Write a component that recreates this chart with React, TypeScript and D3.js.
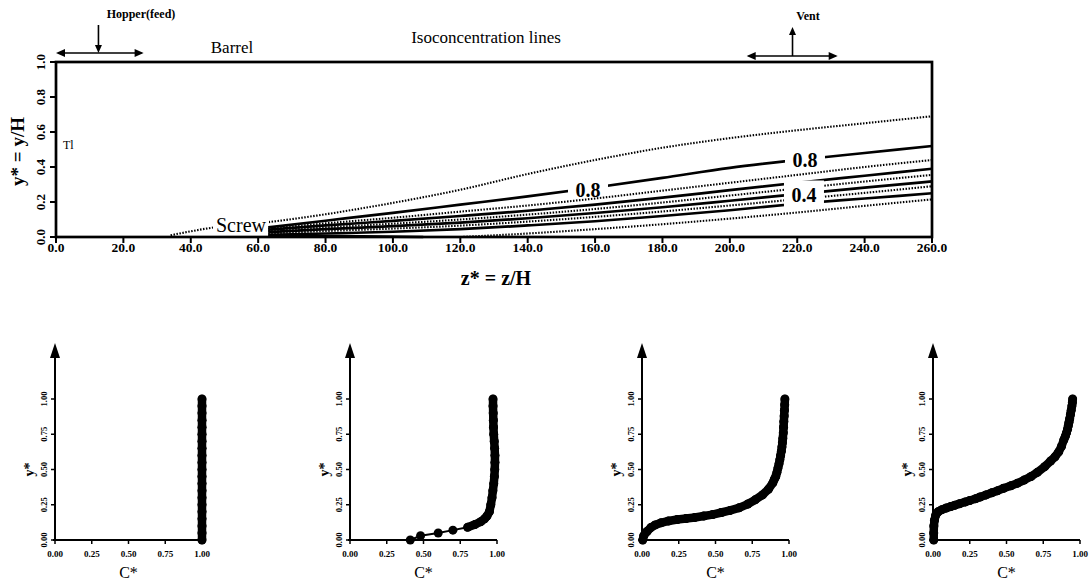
import React, { useEffect, useRef } from "react";
import * as d3 from "d3";

// top plot axes
const zTicks = [0, 20, 40, 60, 80, 100, 120, 140, 160, 180, 200, 220, 240, 260];
const yTicks = [0, 0.2, 0.4, 0.6, 0.8, 1.0];

// isoconcentration lines, [z*, y*]
const iso09 = [[34, 0.01], [47, 0.055], [63, 0.085], [80, 0.13], [100, 0.195], [120, 0.27], [140, 0.36], [160, 0.44], [180, 0.51], [200, 0.565], [220, 0.61], [240, 0.65], [260, 0.69]];
const iso08 = [[63, 0.055], [80, 0.093], [100, 0.138], [120, 0.185], [140, 0.232], [160, 0.283], [180, 0.338], [200, 0.395], [220, 0.44], [240, 0.48], [260, 0.52]];
const iso07 = [[63, 0.048], [80, 0.078], [100, 0.11], [120, 0.145], [140, 0.18], [160, 0.22], [180, 0.265], [200, 0.31], [220, 0.355], [240, 0.4], [260, 0.44]];
const iso06 = [[63, 0.042], [80, 0.066], [100, 0.092], [120, 0.12], [140, 0.15], [160, 0.185], [180, 0.225], [200, 0.268], [220, 0.31], [240, 0.35], [260, 0.39]];
const iso05 = [[63, 0.035], [80, 0.055], [100, 0.076], [120, 0.1], [140, 0.128], [160, 0.16], [180, 0.197], [200, 0.237], [220, 0.277], [240, 0.317], [260, 0.355]];
const iso04 = [[63, 0.028], [80, 0.045], [100, 0.062], [120, 0.082], [140, 0.107], [160, 0.137], [180, 0.17], [200, 0.207], [220, 0.245], [240, 0.282], [260, 0.318]];
const iso03 = [[63, 0.02], [80, 0.034], [100, 0.048], [120, 0.065], [140, 0.088], [160, 0.115], [180, 0.146], [200, 0.18], [220, 0.216], [240, 0.252], [260, 0.29]];
const iso02 = [[63, 0.012], [80, 0.02], [100, 0.03], [120, 0.045], [140, 0.066], [160, 0.09], [180, 0.12], [200, 0.153], [220, 0.19], [240, 0.22], [260, 0.25]];
const iso02Wall = [[63, 0.006], [85, 0.005], [109, 0.0]];
const iso01 = [[120, 0.0], [140, 0.02], [160, 0.045], [180, 0.073], [200, 0.105], [220, 0.14], [240, 0.178], [260, 0.215]];

const isoLines = [
  { pts: iso09, dotted: true, gap: "gapScrew" },
  { pts: iso08, dotted: false, gap: "gap08" },
  { pts: iso07, dotted: true, gap: null },
  { pts: iso06, dotted: false, gap: "gap04" },
  { pts: iso05, dotted: true, gap: "gap04" },
  { pts: iso04, dotted: false, gap: "gap04" },
  { pts: iso03, dotted: true, gap: "gap04" },
  { pts: iso02, dotted: false, gap: "gap04" },
  { pts: iso02Wall, dotted: false, gap: null },
  { pts: iso01, dotted: true, gap: null },
];

// concentration profiles, [C*, y*]
const cTicks = [0, 0.25, 0.5, 0.75, 1.0];
const profile1 = [[1, 0], [1, 0.05], [1, 0.1], [1, 0.15], [1, 0.2], [1, 0.25], [1, 0.3], [1, 0.35], [1, 0.4], [1, 0.45], [1, 0.5], [1, 0.55], [1, 0.6], [1, 0.65], [1, 0.7], [1, 0.75], [1, 0.8], [1, 0.85], [1, 0.9], [1, 0.95], [1, 1.0]];
const profile2 = [[0.41, 0.0], [0.48, 0.03], [0.6, 0.05], [0.7, 0.07], [0.8, 0.09], [0.85, 0.11], [0.89, 0.13], [0.915, 0.15], [0.932, 0.17], [0.948, 0.2], [0.958, 0.25], [0.966, 0.3], [0.972, 0.35], [0.978, 0.4], [0.982, 0.45], [0.985, 0.5], [0.986, 0.55], [0.986, 0.6], [0.984, 0.65], [0.981, 0.7], [0.978, 0.75], [0.976, 0.8], [0.975, 0.85], [0.974, 0.9], [0.973, 0.95], [0.973, 1.0]];
const profile3 = [[0.005, 0.0], [0.012, 0.03], [0.034, 0.06], [0.06, 0.088], [0.09, 0.107], [0.13, 0.122], [0.18, 0.135], [0.24, 0.145], [0.3, 0.152], [0.36, 0.16], [0.42, 0.17], [0.48, 0.18], [0.54, 0.195], [0.6, 0.21], [0.66, 0.228], [0.72, 0.255], [0.77, 0.285], [0.82, 0.32], [0.86, 0.36], [0.89, 0.405], [0.9, 0.43], [0.91, 0.45], [0.918, 0.48], [0.925, 0.51], [0.932, 0.54], [0.938, 0.57], [0.943, 0.6], [0.948, 0.63], [0.952, 0.66], [0.955, 0.69], [0.958, 0.72], [0.961, 0.76], [0.963, 0.8], [0.965, 0.84], [0.967, 0.88], [0.969, 0.92], [0.971, 0.96], [0.972, 1.0]];
const profile4 = [[0.005, 0.0], [0.005, 0.05], [0.006, 0.1], [0.01, 0.14], [0.018, 0.175], [0.035, 0.2], [0.06, 0.215], [0.09, 0.227], [0.12, 0.237], [0.15, 0.247], [0.18, 0.257], [0.22, 0.27], [0.25, 0.28], [0.29, 0.293], [0.32, 0.305], [0.36, 0.32], [0.4, 0.335], [0.44, 0.35], [0.48, 0.367], [0.53, 0.385], [0.575, 0.403], [0.62, 0.425], [0.667, 0.45], [0.71, 0.48], [0.76, 0.52], [0.8, 0.56], [0.83, 0.59], [0.855, 0.625], [0.874, 0.664], [0.89, 0.71], [0.9, 0.735], [0.908, 0.76], [0.915, 0.785], [0.92, 0.81], [0.925, 0.835], [0.93, 0.86], [0.935, 0.89], [0.94, 0.92], [0.945, 0.95], [0.948, 0.975], [0.95, 1.0]];
const profiles = [profile1, profile2, profile3, profile4];

const serif = "'Liberation Serif', 'DejaVu Serif', serif";

export default function App() {
  const ref = useRef<SVGSVGElement>(null);

  useEffect(() => {
    const svg = d3.select(ref.current);
    svg.selectAll("*").remove();
    svg.attr("font-family", serif);

    const x = d3.scaleLinear().domain([0, 260]).range([56, 932]);
    const y = d3.scaleLinear().domain([0, 1]).range([237, 62]);

    const head = (g: any, tx: number, ty: number, dx: number, dy: number, len = 9, hw = 4) => {
      // triangle with tip at (tx,ty) pointing along (dx,dy)
      const bx = tx - dx * len, by = ty - dy * len;
      const px = -dy * hw, py = dx * hw;
      g.append("path")
        .attr("d", `M${tx},${ty}L${bx + px},${by + py}L${bx - px},${by - py}Z`)
        .attr("fill", "#000");
    };

    const defs = svg.append("defs");
    const addMask = (id: string, boxes: number[][]) => {
      const m = defs.append("mask").attr("id", id)
        .attr("maskUnits", "userSpaceOnUse")
        .attr("x", 0).attr("y", 0).attr("width", 1092).attr("height", 585);
      m.append("rect").attr("width", 1092).attr("height", 585).attr("fill", "#fff");
      boxes.forEach(([cx, cy, w, h]) => {
        m.append("rect").attr("x", cx - w / 2).attr("y", cy - h / 2)
          .attr("width", w).attr("height", h).attr("fill", "#000");
      });
    };

    // contour labels
    const lab08a = [157.9, 0.269];
    const lab08b = [222.3, 0.44];
    const lab04 = [222, 0.24];
    const labScrew = [54.9, 0.069];

    addMask("gap08", [[x(lab08a[0]), y(lab08a[1]), 40, 18], [x(lab08b[0]), y(lab08b[1]), 40, 16]]);
    addMask("gap04", [[x(lab04[0]), y(lab04[1]) - 1, 40, 27]]);
    addMask("gapScrew", [[x(labScrew[0]), y(labScrew[1]), 56, 22]]);

    const top = svg.append("g");

    // contour lines
    const line = d3.line<number[]>()
      .x((d) => x(d[0]))
      .y((d) => y(d[1]))
      .curve(d3.curveMonotoneX);

    isoLines.forEach((l) => {
      const p = top.append("path")
        .attr("d", line(l.pts))
        .attr("fill", "none")
        .attr("stroke", "#000")
        .attr("stroke-width", l.dotted ? 2.1 : 2.7)
        .attr("stroke-dasharray", l.dotted ? "1.5 1.5" : null);
      if (l.gap) p.attr("mask", `url(#${l.gap})`);
    });

    // frame
    top.append("rect")
      .attr("x", x(0)).attr("y", y(1))
      .attr("width", x(260) - x(0)).attr("height", y(0) - y(1))
      .attr("fill", "none").attr("stroke", "#000").attr("stroke-width", 2.7);

    // ticks
    zTicks.forEach((t) => {
      top.append("line").attr("x1", x(t)).attr("x2", x(t))
        .attr("y1", y(0)).attr("y2", y(0) + 6)
        .attr("stroke", "#000").attr("stroke-width", 2);
      top.append("text").attr("x", x(t)).attr("y", y(0) + 15)
        .attr("text-anchor", "middle").attr("font-weight", "bold")
        .attr("font-size", 13.5).text(d3.format(".1f")(t));
    });
    yTicks.forEach((t) => {
      top.append("line").attr("x1", x(0) - 6).attr("x2", x(0))
        .attr("y1", y(t)).attr("y2", y(t))
        .attr("stroke", "#000").attr("stroke-width", 2);
      top.append("text")
        .attr("transform", `translate(${x(0) - 11},${y(t)}) rotate(-90)`)
        .attr("text-anchor", "middle").attr("font-weight", "bold")
        .attr("font-size", 13).text(d3.format(".1f")(t));
    });

    // axis titles
    top.append("text")
      .attr("transform", `translate(24,${y(0.5) + 2}) rotate(-90)`)
      .attr("text-anchor", "middle").attr("font-weight", "bold")
      .attr("font-size", 19).text("y* = y/H");
    top.append("text").attr("x", 496).attr("y", 285)
      .attr("text-anchor", "middle").attr("font-weight", "bold")
      .attr("font-size", 20).text("z* = z/H");

    // labels on the contour lines
    const labels = [
      { p: lab08a, t: "0.8", size: 20, bold: true },
      { p: lab08b, t: "0.8", size: 20, bold: true },
      { p: lab04, t: "0.4", size: 20, bold: true },
      { p: labScrew, t: "Screw", size: 20, bold: false },
    ];
    labels.forEach((l) => {
      top.append("text").attr("x", x(l.p[0])).attr("y", y(l.p[1]))
        .attr("dy", "0.35em").attr("text-anchor", "middle")
        .attr("font-weight", l.bold ? "bold" : "normal")
        .attr("font-size", l.size).text(l.t);
    });

    top.append("text").attr("x", 63).attr("y", 149).attr("font-size", 12).text("Tl");
    top.append("text").attr("x", 232).attr("y", 53).attr("text-anchor", "middle")
      .attr("font-size", 17).text("Barrel");
    top.append("text").attr("x", 486).attr("y", 43).attr("text-anchor", "middle")
      .attr("font-size", 17).text("Isoconcentration lines");

    // hopper and vent markers
    const hopper = [0, 26, 12.6];
    const vent = [205, 232, 218.6];
    const ann = svg.append("g");
    ann.append("line").attr("x1", x(hopper[0]) + 2).attr("x2", x(hopper[1]) - 2)
      .attr("y1", 53).attr("y2", 53).attr("stroke", "#000").attr("stroke-width", 1.6);
    head(ann, x(hopper[0]), 53, -1, 0);
    head(ann, x(hopper[1]), 53, 1, 0);
    ann.append("line").attr("x1", x(hopper[2])).attr("x2", x(hopper[2]))
      .attr("y1", 25).attr("y2", 48).attr("stroke", "#000").attr("stroke-width", 1.6);
    head(ann, x(hopper[2]), 53, 0, 1, 8, 3.5);
    ann.append("text").attr("x", 141).attr("y", 18).attr("text-anchor", "middle")
      .attr("font-weight", "bold").attr("font-size", 12).text("Hopper(feed)");

    ann.append("line").attr("x1", x(vent[0]) + 2).attr("x2", x(vent[1]) - 2)
      .attr("y1", 56).attr("y2", 56).attr("stroke", "#000").attr("stroke-width", 1.6);
    head(ann, x(vent[0]), 56, -1, 0);
    head(ann, x(vent[1]), 56, 1, 0);
    ann.append("line").attr("x1", x(vent[2])).attr("x2", x(vent[2]))
      .attr("y1", 56).attr("y2", 32).attr("stroke", "#000").attr("stroke-width", 1.6);
    head(ann, x(vent[2]), 27, 0, -1, 8, 3.5);
    ann.append("text").attr("x", 808).attr("y", 20).attr("text-anchor", "middle")
      .attr("font-weight", "bold").attr("font-size", 12).text("Vent");

    // bottom profile panels
    const panelX0 = [55, 350, 642, 933];
    const panelW = 147;
    profiles.forEach((prof, i) => {
      const g = svg.append("g");
      const px = d3.scaleLinear().domain([0, 1]).range([panelX0[i], panelX0[i] + panelW]);
      const py = d3.scaleLinear().domain([0, 1]).range([540, 399]);

      // y axis with arrow
      g.append("line").attr("x1", px(0)).attr("x2", px(0))
        .attr("y1", py(0)).attr("y2", 352)
        .attr("stroke", "#000").attr("stroke-width", 2);
      head(g, px(0), 343, 0, -1, 15, 5);
      // x axis
      g.append("line").attr("x1", px(0) - 2).attr("x2", px(1))
        .attr("y1", py(0)).attr("y2", py(0))
        .attr("stroke", "#000").attr("stroke-width", 2);

      cTicks.forEach((t) => {
        g.append("line").attr("x1", px(t)).attr("x2", px(t))
          .attr("y1", py(0)).attr("y2", py(0) + 4)
          .attr("stroke", "#000").attr("stroke-width", 1.5);
        g.append("text").attr("x", px(t)).attr("y", py(0) + 17)
          .attr("text-anchor", "middle").attr("font-weight", "bold")
          .attr("font-size", 9).text(d3.format(".2f")(t));
        g.append("line").attr("x1", px(0) - 4).attr("x2", px(0))
          .attr("y1", py(t)).attr("y2", py(t))
          .attr("stroke", "#000").attr("stroke-width", 1.5);
        g.append("text")
          .attr("transform", `translate(${px(0) - 8},${py(t)}) rotate(-90)`)
          .attr("text-anchor", "middle").attr("font-weight", "bold")
          .attr("font-size", 8.5).text(d3.format(".2f")(t));
      });

      g.append("text")
        .attr("transform", `translate(${px(0) - 21},${py(0.5)}) rotate(-90)`)
        .attr("text-anchor", "middle").attr("font-weight", "bold")
        .attr("font-size", 14).text("y*");
      g.append("text").attr("x", px(0.5)).attr("y", 578)
        .attr("text-anchor", "middle").attr("font-size", 16).text("C*");

      // connect the markers: heavy where they crowd together, thin where they spread out
      d3.pairs(prof).forEach(([a, b]) => {
        const dist = Math.hypot(px(b[0]) - px(a[0]), py(b[1]) - py(a[1]));
        g.append("line")
          .attr("x1", px(a[0])).attr("y1", py(a[1]))
          .attr("x2", px(b[0])).attr("y2", py(b[1]))
          .attr("stroke", "#000")
          .attr("stroke-width", dist <= 10 ? 8.5 : 2)
          .attr("stroke-linecap", "round");
      });
      g.selectAll("circle.m").data(prof).enter().append("circle")
        .attr("cx", (d) => px(d[0])).attr("cy", (d) => py(d[1]))
        .attr("r", 4.5).attr("fill", "#000");
    });
  }, []);

  return (
    <svg
      ref={ref}
      width={1092}
      height={585}
      style={{ position: "absolute", left: 0, top: 0, background: "#fff" }}
    />
  );
}
